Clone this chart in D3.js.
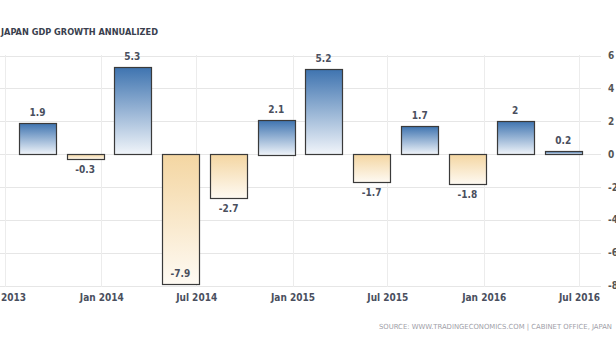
<!DOCTYPE html>
<html><head><meta charset="utf-8">
<script src="https://cdn.jsdelivr.net/npm/d3@7"></script>
<style>html,body{margin:0;padding:0;background:#fff;overflow:hidden}</style>
</head><body>
<svg id="c" width="616" height="346"></svg>
<script>
const quarters = ["2013-09-01","2013-12-01","2014-03-01","2014-06-01","2014-09-01","2014-12-01","2015-03-01","2015-06-01","2015-09-01","2015-12-01","2016-03-01","2016-06-01"];
const values = [1.9,-0.3,5.3,-7.9,-2.7,2.1,5.2,-1.7,1.7,-1.8,2,0.2];
const yTicks = [6,4,2,0,-2,-4,-6,-8];
const xTickDates = ["2013-07-01","2014-01-01","2014-07-01","2015-01-01","2015-07-01","2016-01-01","2016-07-01"];
const title = "JAPAN GDP GROWTH ANNUALIZED";
const source = "SOURCE: WWW.TRADINGECONOMICS.COM | CABINET OFFICE, JAPAN";

const parse = d3.utcParse("%Y-%m-%d");
const svg = d3.select("#c");
const x = d3.scaleUtc().domain([parse("2013-07-01"), parse("2016-07-01")]).range([5, 579]);
const y = d3.scaleLinear().domain([-8, 6]).range([285.5, 55.5]);
const plotL = 0, plotR = 601;

const defs = svg.append("defs");
const gp = defs.append("linearGradient").attr("id","gpos").attr("x1",0).attr("y1",0).attr("x2",0).attr("y2",1);
gp.append("stop").attr("offset","0%").attr("stop-color","#3f74b0");
gp.append("stop").attr("offset","100%").attr("stop-color","#f1f5fa");
const gn = defs.append("linearGradient").attr("id","gneg").attr("x1",0).attr("y1",0).attr("x2",0).attr("y2",1);
gn.append("stop").attr("offset","0%").attr("stop-color","#f4d6a2");
gn.append("stop").attr("offset","100%").attr("stop-color","#fefaf3");

// horizontal grid
svg.append("g").selectAll("line").data(yTicks).join("line")
  .attr("x1", plotL).attr("x2", plotR)
  .attr("y1", d => Math.round(y(d)) + 0.5).attr("y2", d => Math.round(y(d)) + 0.5)
  .attr("stroke", "#e6e6e6").attr("stroke-width", 1);
// vertical grid
svg.append("g").selectAll("line").data(xTickDates).join("line")
  .attr("x1", d => Math.round(x(parse(d))) + 0.5).attr("x2", d => Math.round(x(parse(d))) + 0.5)
  .attr("y1", 55).attr("y2", 287)
  .attr("stroke", "#ececec").attr("stroke-width", 1);

const fnt = "'DejaVu Sans Condensed', 'DejaVu Sans', sans-serif";

// y axis labels (right)
const yAxis = d3.axisRight(y).tickValues(yTicks).tickSize(0).tickPadding(0).tickFormat(d => String(d));
const ya = svg.append("g").attr("transform", "translate(608,0)").call(yAxis);
ya.select(".domain").remove();
ya.selectAll("text").attr("font-family", fnt)
  .attr("font-size", 10).attr("font-weight", "bold").attr("fill", "#555");

// x axis labels
const fmt = d3.utcFormat("%b %Y");
const xAxis = d3.axisBottom(x).tickValues(xTickDates.map(parse)).tickSize(0).tickPadding(0).tickFormat(fmt);
const xa = svg.append("g").attr("transform", "translate(0,294)").call(xAxis);
xa.select(".domain").remove();
xa.selectAll("text").attr("font-family", fnt)
  .attr("font-size", 10).attr("font-weight", "bold").attr("fill", "#4a4f5e").attr("dy", "0.71em");

// bars
const bw = 37;
const data = quarters.map((q, i) => ({d: parse(q), v: values[i]}));
svg.append("g").selectAll("rect").data(data).join("rect")
  .attr("x", d => Math.round(x(d.d) - bw / 2) + 0.5)
  .attr("width", bw)
  .attr("y", d => Math.round(y(Math.max(0, d.v))) + 0.5)
  .attr("height", d => Math.max(2, Math.round(Math.abs(y(d.v) - y(0)))))
  .attr("fill", d => d.v >= 0 ? "url(#gpos)" : "url(#gneg)")
  .attr("stroke", "#3a3a3a").attr("stroke-width", 1.2);

// value labels
svg.append("g").selectAll("text").data(data).join("text")
  .attr("x", d => x(d.d))
  .attr("y", d => {
    if (d.v >= 0) return y(d.v) - 7;
    const b = y(d.v) + 14;
    return b > 282 ? y(d.v) - 7 : b;
  })
  .attr("text-anchor", "middle")
  .attr("font-family", fnt)
  .attr("font-size", 10).attr("font-weight", "bold").attr("fill", "#4a4f5e")
  .text(d => String(d.v));

// title
svg.append("text").attr("x", 1).attr("y", 35).text(title)
  .attr("font-family", fnt)
  .attr("font-size", 9.5).attr("font-weight", "bold").attr("fill", "#3a3f4e")
  .attr("textLength", 157).attr("lengthAdjust", "spacingAndGlyphs");

// source
svg.append("text").attr("x", 612).attr("y", 329).attr("text-anchor", "end").text(source)
  .attr("font-family", fnt)
  .attr("font-size", 7).attr("fill", "#a0a0a8")
  .attr("textLength", 233).attr("lengthAdjust", "spacingAndGlyphs");
</script>
</body></html>
